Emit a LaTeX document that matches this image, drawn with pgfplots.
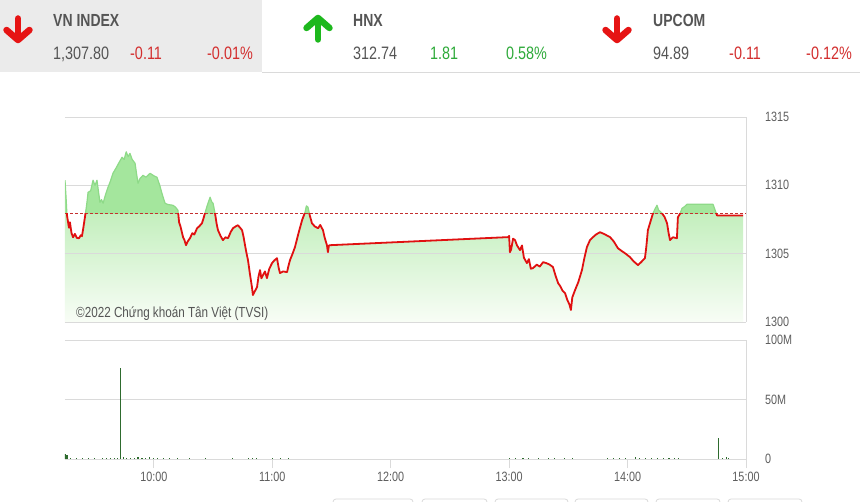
\documentclass[border=0pt]{standalone}
\usepackage{fontspec}
\setmainfont{Liberation Sans}[FakeStretch=0.8]
\usepackage{pgfplots}
\pgfplotsset{compat=1.18}
\usepackage{pgfplotstable}

\definecolor{txtgrey}{HTML}{555555}
\definecolor{lblgrey}{HTML}{5E5E5E}
\definecolor{dnred}{HTML}{E61414}
\definecolor{upgreen}{HTML}{1DB81D}
\definecolor{numred}{HTML}{D32F2F}
\definecolor{numgreen}{HTML}{2EAA3A}
\definecolor{gridc}{HTML}{DADADA}
\definecolor{boxgrey}{HTML}{EBEBEB}
\definecolor{lred}{HTML}{E01010}
\definecolor{refred}{HTML}{C43030}
\definecolor{fillA}{HTML}{A4E69D}
\definecolor{fillTop}{HTML}{A6E79E}
\definecolor{fillBot}{HTML}{F8FDF6}
\definecolor{lgreen}{HTML}{8EDA88}
\definecolor{volg}{HTML}{2E6B2E}

\pgfplotstableread{
t v
555 1310.37
555.5 1309.2
556 1307.81
557 1306.9
557.5 1307.3
558.3 1306.5
559.1 1306.20
560 1306.45
561 1306.15
562.1 1306.13
563 1306.35
563.6 1306.28
564.3 1306.9
565.1 1307.67
566 1308.6
566.7 1309.49
568 1309.6
569.2 1310.37
570.2 1310.0
571.2 1310.37
572 1309.5
572.7 1308.76
573.5 1308.95
574.3 1308.69
575.5 1309.3
576.8 1309.86
578 1310.3
579.3 1310.88
581 1311.3
582.5 1311.7
583.9 1312.05
585 1311.9
586 1312.45
587 1312.1
587.9 1312.34
589 1311.9
590.5 1311.61
591.3 1310.8
592 1310.15
593 1310.5
594.5 1310.73
596 1310.6
598.1 1310.88
600 1310.7
601.6 1310.59
603 1310.0
604.1 1309.42
605 1309.0
605.7 1308.69
607 1308.6
609.7 1308.54
611 1308.4
612.2 1308.18
612.8 1307.30
613.5 1307.0
614.8 1306.21
615.5 1306.0
616.3 1305.62
617.2 1305.9
618.3 1306.13
619.5 1306.5
620.5 1306.4
621.9 1306.86
623 1307.0
624.4 1307.23
625.2 1307.6
625.9 1307.96
627 1308.5
628.5 1309.13
629.3 1308.8
630 1308.69
631 1307.96
631.8 1307.2
632.5 1306.72
633.8 1306.3
635 1305.99
636.3 1306.2
637.6 1306.13
639 1306.6
640.1 1306.86
641.5 1307.0
642.6 1307.08
643.7 1306.9
644.7 1306.72
645.5 1306.2
646.2 1305.62
647 1305.0
647.7 1304.53
648.7 1303.5
649.7 1302.56
650.2 1301.97
651 1302.2
652.3 1302.56
653 1303.3
653.8 1303.80
654.5 1303.2
655.3 1303.43
656.3 1303.7
657.3 1303.21
658.5 1303.9
659.9 1304.31
661 1304.5
662.4 1304.67
663.2 1304.0
663.9 1303.58
665.5 1303.7
667.5 1303.65
668.2 1304.1
669 1304.53
670.3 1305.0
671.5 1305.48
673.3 1306.5
675.1 1307.45
676.6 1308.03
677.3 1308.5
678.1 1308.40
679 1307.8
680.1 1307.23
681.5 1307.0
683.2 1306.86
684.3 1307.1
685.7 1306.72
686.5 1306.2
687.7 1305.62
688.2 1305.11
688.7 1305.6
689.2 1305.62
779.4 1306.21
780 1306.3
780.4 1305.11
781 1305.3
782 1306.1
783 1305.99
784 1305.6
785.5 1305.26
786.5 1305.6
787.5 1304.7
789 1304.31
790 1304.6
791 1303.9
792.1 1303.94
794 1304.2
795.5 1304.05
797.2 1304.38
799 1304.3
800.5 1304.2
802.2 1304.02
803.5 1303.4
804.8 1302.85
806 1302.6
807 1302.3
808.3 1302.12
809.5 1301.6
810.5 1301.3
811.3 1300.88
812 1301.8
813.4 1302.34
815 1302.9
816.9 1303.80
818 1304.6
819.4 1305.48
821 1306.0
822.5 1306.21
824 1306.4
826 1306.57
828 1306.45
831.1 1306.21
833 1305.9
835.1 1305.40
837 1305.2
839 1305.0
841.2 1304.75
843 1304.45
845.3 1304.16
847 1304.4
848.8 1304.67
849.5 1305.5
850.3 1306.72
851.5 1307.3
852.9 1307.96
854 1308.3
854.9 1308.54
855.7 1308.2
857.4 1307.96
858.7 1307.7
860 1307.23
860.8 1306.5
861.5 1305.99
863 1306.2
865 1306.13
865.5 1307.67
866.5 1307.9
867.6 1308.32
868.5 1308.4
870.1 1308.61
883.3 1308.61
885.3 1307.80
898.5 1307.80
}\price

\pgfplotstableread{
t v
555 1300
}\area
\pgfplotstableread{
t v
898.5 1300
}\areaend
\pgfplotstablevertcat{\area}{\price}
\pgfplotstablevertcat{\area}{\areaend}

\pgfplotstableread{
t m
555 4
556 3
558 0.8
561 0.6
564 0.7
567 0.5
570 0.6
574 0.8
576 1.0
578 0.9
580 1.1
581.5 1.2
583 76.5
584.5 1.3
586 1.1
588 1.2
590 1.0
592 1.3
594 1.1
596 0.9
598 1.4
600 1.0
602 0.8
605 0.7
608 0.6
612 0.6
618 0.5
626 0.6
640 0.5
648 0.8
650 0.7
652 0.6
660 0.5
664 0.6
668 0.5
780 0.8
783 0.6
787 0.7
790 0.5
795 0.6
800 0.7
803 0.6
808 0.5
812 0.6
830 0.6
833 0.8
836 0.7
839 0.5
844 1.5
846 0.8
849 0.9
852 0.7
855 0.8
858 0.6
861 0.7
864 0.6
866 0.5
886 17.6
888 0.8
890 2.0
891 1.2
}\volume

\pgfplotsset{
  overlay/.style={scale only axis, width=681pt, xmin=555, xmax=900, hide axis},
}

\begin{document}
\begin{tikzpicture}
\useasboundingbox (0,0) rectangle (860pt,-502pt);
\fill[white] (0,0) rectangle (860pt,-502pt);
% header
\fill[boxgrey] (0,0) rectangle (262pt,-72pt);
\draw[gridc, line width=0.8pt] (262pt,-72.5pt) -- (860pt,-72.5pt);
\begin{scope}[line width=6.5pt, line cap=round, line join=round]
\draw[dnred] (18pt,-18.5pt) -- (18pt,-39pt);
\draw[dnred] (6.5pt,-30pt) -- (18pt,-40pt) -- (29.5pt,-30pt);
\draw[upgreen] (318pt,-39.5pt) -- (318pt,-19pt);
\draw[upgreen] (306.5pt,-28pt) -- (318pt,-18pt) -- (329.5pt,-28pt);
\draw[dnred] (617pt,-18.5pt) -- (617pt,-39pt);
\draw[dnred] (605.5pt,-30pt) -- (617pt,-40pt) -- (628.5pt,-30pt);
\end{scope}
\begin{scope}[every node/.style={anchor=base west, inner sep=0pt}]
\node[font=\fontsize{17.5}{19}\selectfont\bfseries, text=txtgrey] at (53pt,-27pt) {VN INDEX};
\node[font=\fontsize{17.5}{19}\selectfont\bfseries, text=txtgrey] at (353pt,-27pt) {HNX};
\node[font=\fontsize{17.5}{19}\selectfont\bfseries, text=txtgrey] at (653pt,-27pt) {UPCOM};
\node[font=\fontsize{18}{20}\selectfont, text=txtgrey] at (53pt,-60pt) {1,307.80};
\node[font=\fontsize{18}{20}\selectfont, text=numred] at (130pt,-60pt) {-0.11};
\node[font=\fontsize{18}{20}\selectfont, text=numred] at (207pt,-60pt) {-0.01\%};
\node[font=\fontsize{18}{20}\selectfont, text=txtgrey] at (353pt,-60pt) {312.74};
\node[font=\fontsize{18}{20}\selectfont, text=numgreen] at (430pt,-60pt) {1.81};
\node[font=\fontsize{18}{20}\selectfont, text=numgreen] at (506pt,-60pt) {0.58\%};
\node[font=\fontsize{18}{20}\selectfont, text=txtgrey] at (653pt,-60pt) {94.89};
\node[font=\fontsize{18}{20}\selectfont, text=numred] at (729pt,-60pt) {-0.11};
\node[font=\fontsize{18}{20}\selectfont, text=numred] at (806pt,-60pt) {-0.12\%};
\end{scope}

% price axis: grid, labels, gradient area
\begin{axis}[
  at={(65pt,-322pt)}, anchor=south west, scale only axis,
  width=681pt, height=205pt,
  xmin=555, xmax=900, ymin=1300, ymax=1315,
  axis x line*=bottom, axis y line*=right,
  axis line style={draw=gridc, line width=0.8pt},
  xtick=\empty,
  ytick={1300,1305,1310,1315}, yticklabels={1300,1305,1310,1315},
  ymajorgrids, grid style={draw=gridc, line width=0.8pt},
  ytick style={draw=none}, major tick length=0pt,
  yticklabel style={font=\fontsize{13.5}{15}\selectfont, text=lblgrey, inner sep=0pt, anchor=west, xshift=19pt},
  axis on top,
]
\addplot[draw=none, top color=fillTop, bottom color=fillBot] table[x=t, y=v] {\area};
\end{axis}

% part above the reference line: solid green area and green line
\begin{axis}[overlay, at={(65pt,-213.9pt)}, anchor=south west, height=96.9pt, ymin=1307.91, ymax=1315]
\addplot[draw=none, fill=fillA] table[x=t, y=v] {\area};
\addplot[lgreen, line width=1.2pt, line join=round] table[x=t, y=v] {\price};
\end{axis}

% reference line
\begin{axis}[overlay, at={(65pt,-322pt)}, anchor=south west, height=205pt, ymin=1300, ymax=1315]
\addplot[refred, line width=1pt, dash pattern=on 3pt off 2pt] coordinates {(555,1307.91) (900,1307.91)};
\end{axis}

% part below the reference line: red line
\begin{axis}[overlay, at={(65pt,-322pt)}, anchor=south west, height=108.1pt, ymin=1300, ymax=1307.91]
\addplot[lred, line width=1.8pt, line join=round] table[x=t, y=v] {\price};
\end{axis}

\node[anchor=base west, inner sep=0pt, font=\fontsize{14.6}{16}\selectfont, text=txtgrey] at (76pt,-318pt) {©2022 Chứng khoán Tân Việt (TVSI)};

% volume axis
\begin{axis}[
  at={(65pt,-459pt)}, anchor=south west, scale only axis,
  width=681pt, height=119pt,
  xmin=555, xmax=900, ymin=0, ymax=100,
  axis x line*=bottom, axis y line*=right,
  axis line style={draw=gridc, line width=0.8pt},
  xtick={600,660,720,780,840,900},
  xticklabels={10:00,11:00,12:00,13:00,14:00,15:00},
  xtick style={draw=gridc, line width=0.8pt},
  tick align=outside, major tick length=9pt,
  ytick={0,50,100}, yticklabels={0,50M,100M},
  ytick style={draw=none},
  ymajorgrids, grid style={draw=gridc, line width=0.8pt},
  yticklabel style={font=\fontsize{13.5}{15}\selectfont, text=lblgrey, inner sep=0pt, anchor=west, xshift=10pt},
  xticklabel style={font=\fontsize{13.5}{15}\selectfont, text=lblgrey, inner sep=0pt, anchor=north, yshift=-4pt},
]
\addplot[ycomb, volg, line width=1.1pt] table[x=t, y=m] {\volume};
\end{axis}

% bottom buttons (cut off)
\begin{scope}[gridc, line width=0.8pt, rounded corners=3pt]
\draw (333pt,-515pt) rectangle (413pt,-499pt);
\draw (422pt,-515pt) rectangle (487pt,-499pt);
\draw (495pt,-515pt) rectangle (568pt,-499pt);
\draw (575pt,-515pt) rectangle (648pt,-499pt);
\draw (656pt,-515pt) rectangle (720pt,-499pt);
\draw (728pt,-515pt) rectangle (802pt,-499pt);
\end{scope}
\end{tikzpicture}
\end{document}
